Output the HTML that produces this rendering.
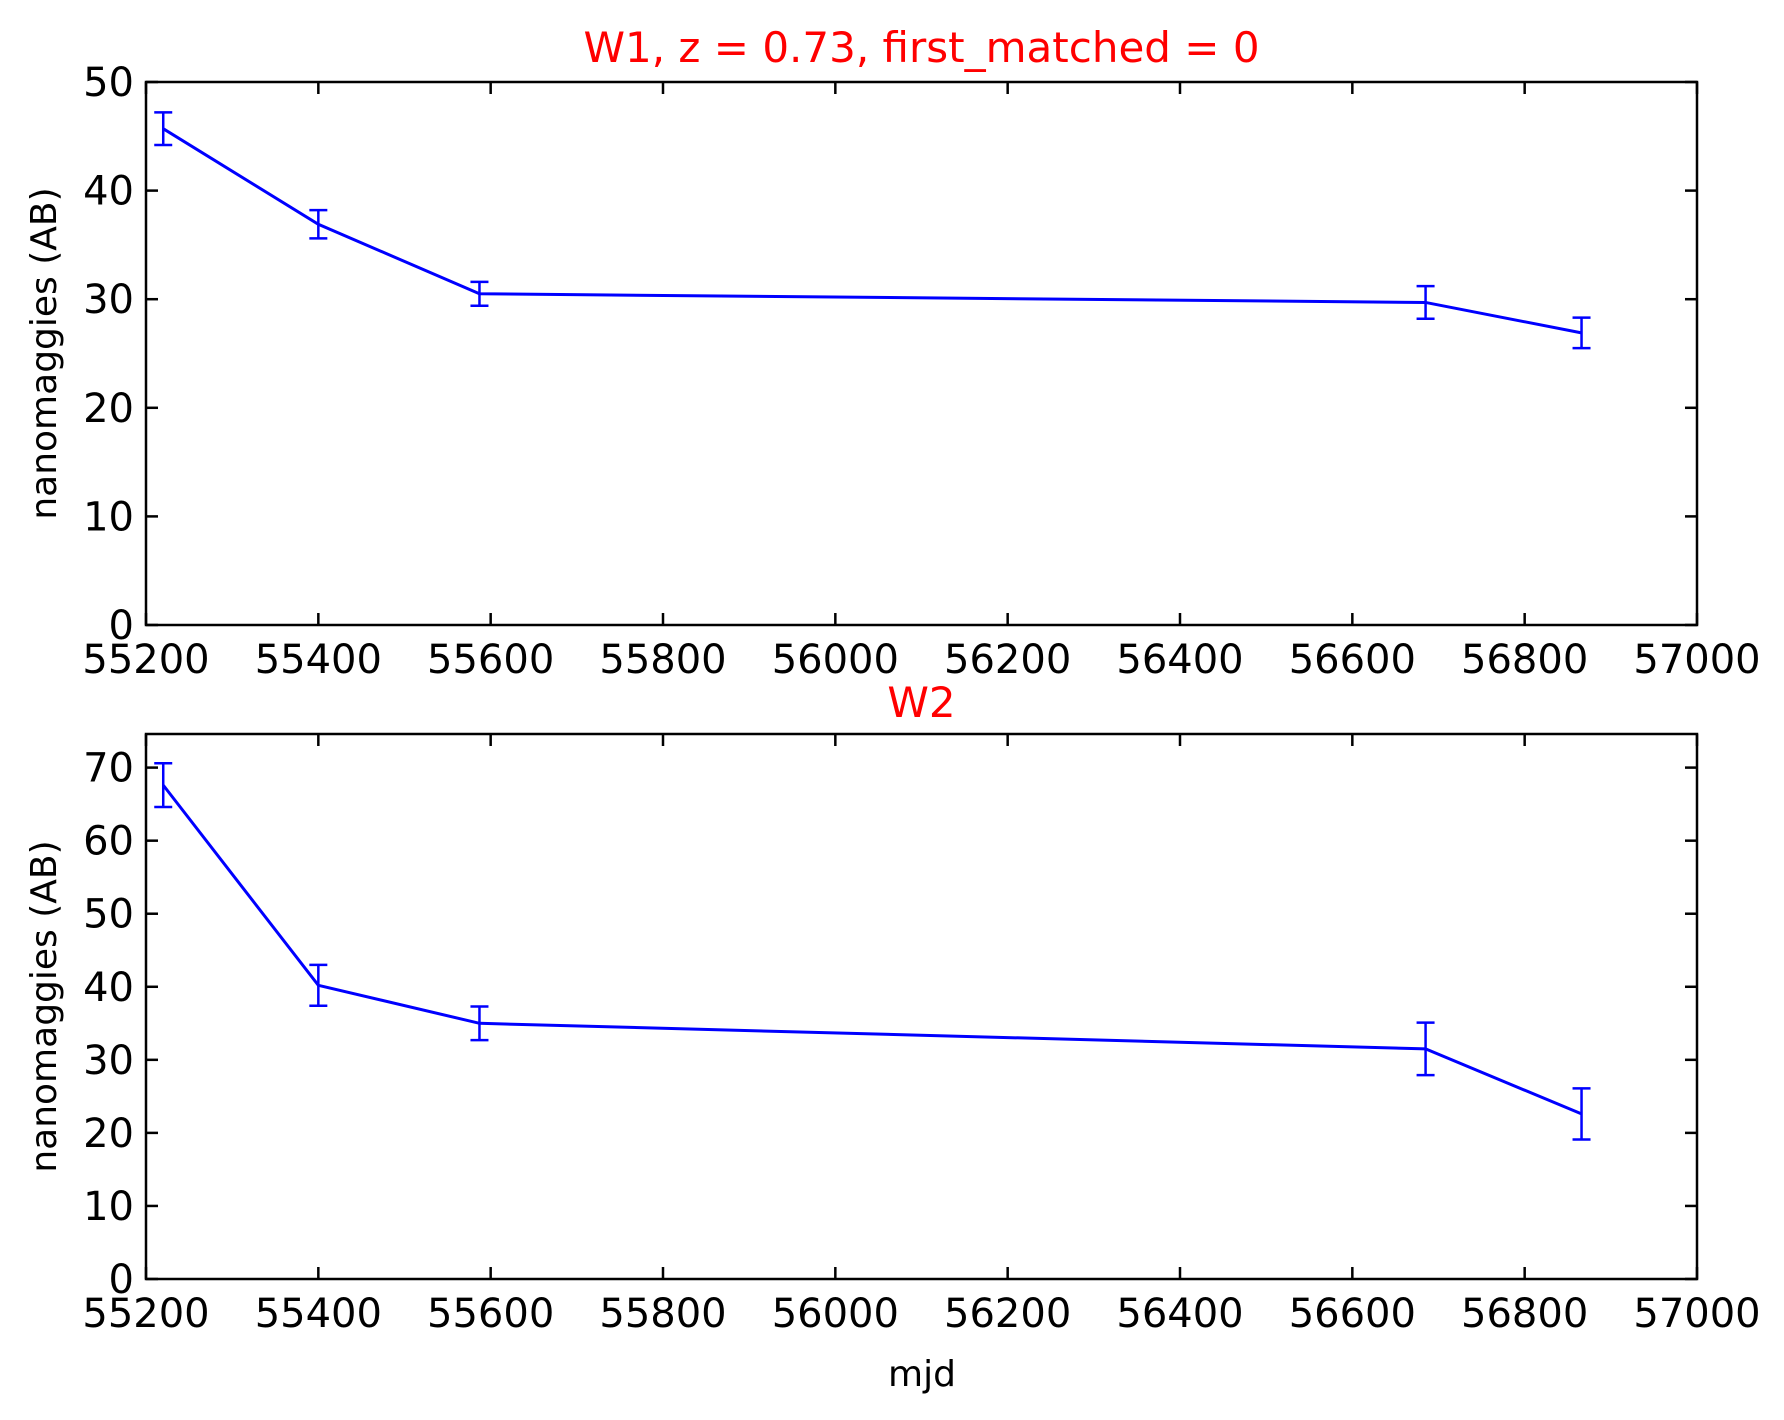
<!DOCTYPE html>
<html><head><meta charset="utf-8"><style>
html,body{margin:0;padding:0;background:#fff}
svg{display:block}
text{font-family:"DejaVu Sans","Liberation Sans",sans-serif}
</style></head><body>
<svg id="chart" width="1784" height="1420" xmlns="http://www.w3.org/2000/svg"></svg>
<script>
const mjd = [55220, 55400, 55587, 56685, 56866];
const w1Flux = [45.7, 36.9, 30.5, 29.7, 26.9];
const w1Err = [1.5, 1.3, 1.1, 1.5, 1.4];
const w2Flux = [67.6, 40.2, 35.0, 31.5, 22.6];
const w2Err = [3.0, 2.8, 2.3, 3.6, 3.5];
const xTicks = [55200, 55400, 55600, 55800, 56000, 56200, 56400, 56600, 56800, 57000];
const w1YTicks = [0, 10, 20, 30, 40, 50];
const w2YTicks = [0, 10, 20, 30, 40, 50, 60, 70];

const NS = "http://www.w3.org/2000/svg";
const svg = document.getElementById('chart');
function mk(tag, attrs, parent){const e=document.createElementNS(NS,tag);for(const k in attrs)e.setAttribute(k,attrs[k]);(parent||svg).appendChild(e);return e;}

function panel(name, top, bottom, ymax, yTicks, vals, errs, title, titleY){
  const L=146, R=1697;
  const g = mk('g',{});
  
  
  const xs = v => L + (v-55200)/(57000-55200)*(R-L);
  const ys = v => bottom - v/ymax*(bottom-top);
  // ticks
  xTicks.forEach(t=>{
    const x=xs(t);
    const tk=mk('line',{x1:x,x2:x,y1:bottom,y2:bottom-12,stroke:'#000','stroke-width':2.5},g);
    
    
    mk('line',{x1:x,x2:x,y1:top,y2:top+12,stroke:'#000','stroke-width':2.5},g);
    const lb=mk('text',{x:x,y:bottom+48,'font-size':40,'text-anchor':'middle',fill:'#000'},g);
    lb.textContent=t;
    
    
  });
  yTicks.forEach(t=>{
    const y=ys(t);
    mk('line',{x1:L,x2:L+12,y1:y,y2:y,stroke:'#000','stroke-width':2.5},g);
    mk('line',{x1:R,x2:R-12,y1:y,y2:y,stroke:'#000','stroke-width':2.5},g);
    const lb=mk('text',{x:L-12,y:y+14,'font-size':40,'text-anchor':'end',fill:'#000'},g);
    lb.textContent=t;
    
    
  });
  // series
  const pts = mjd.map((m,i)=>xs(m)+','+ys(vals[i])).join(' ');
  const line = mk('polyline',{points:pts,fill:'none',stroke:'#0000ff','stroke-width':3},g);
  
  
  mjd.forEach((m,i)=>{
    const x=xs(m), y1=ys(vals[i]-errs[i]), y2=ys(vals[i]+errs[i]);
    const eb=mk('g',{stroke:'#0000ff','stroke-width':2.5},g);
    
    
    mk('line',{x1:x,x2:x,y1:y1,y2:y2},eb);
    mk('line',{x1:x-9,x2:x+9,y1:y1,y2:y1},eb);
    mk('line',{x1:x-9,x2:x+9,y1:y2,y2:y2},eb);
  });
  const frame=mk('rect',{x:L,y:top,width:R-L,height:bottom-top,fill:'none',stroke:'#000','stroke-width':2.5},g);
  
  
  const yl=mk('text',{x:0,y:0,'font-size':36,'text-anchor':'middle',fill:'#000',transform:`translate(56,${(top+bottom)/2}) rotate(-90)`},g);
  yl.textContent='nanomaggies (AB)';
  
  
  const tt=mk('text',{x:(L+R)/2,y:titleY,'font-size':42,'text-anchor':'middle',fill:'#ff0000'},g);
  tt.textContent=title;
  
  
}
panel('w1', 82, 625, 50, w1YTicks, w1Flux, w1Err, 'W1, z = 0.73, first_matched = 0', 62);
panel('w2', 734, 1279, 74.6, w2YTicks, w2Flux, w2Err, 'W2', 717);
const xl = mk('text',{x:922,y:1386,'font-size':36,'text-anchor':'middle',fill:'#000'});
xl.textContent='mjd';


</script>
</body></html>
